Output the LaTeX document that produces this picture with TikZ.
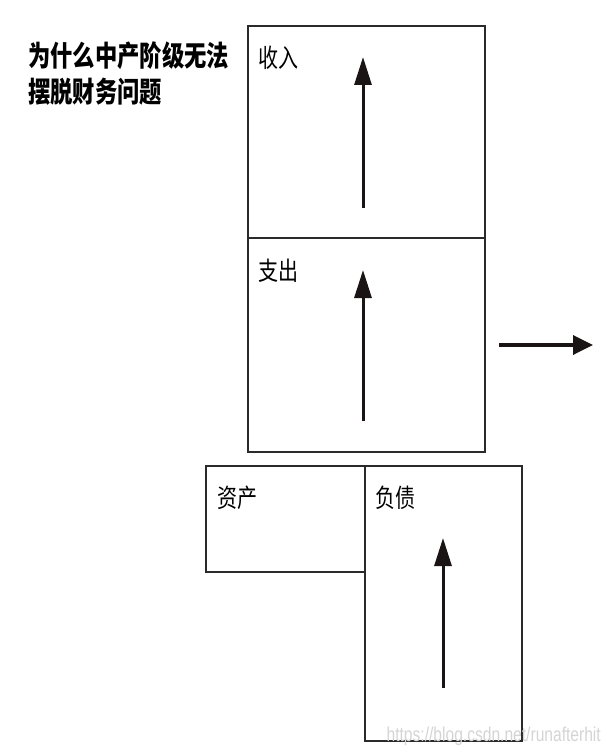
\documentclass[tikz,border=0pt]{standalone}
\usepackage{fontspec}
\setmainfont{Liberation Sans}
\newfontfamily\cjk{Noto Sans CJK SC}
\usepackage{xcolor}
\usetikzlibrary{arrows.meta, positioning, calc}
\definecolor{boxStroke}{HTML}{2A2A2A}
\definecolor{arrowInk}{HTML}{1A1414}
\definecolor{markGray}{HTML}{D4D4D4}
\newcommand{\tallText}[1]{\scalebox{1}[1.28]{#1}}
\tikzset{
  panel/.style={
    rectangle, anchor=north west,
    draw=boxStroke, line width=1.7pt,
    inner sep=0pt
  },
  lbl/.style={anchor=base west, inner sep=0pt, font=\cjk\fontsize{20}{20}\selectfont},
  headline/.style={anchor=base west, inner sep=0pt, font=\cjk\bfseries\fontsize{22.3}{22.3}\selectfont},
  up/.style={-{Triangle[length=28pt, width=17pt]}, line width=3pt, draw=arrowInk},
  side/.style={-{Triangle[length=20pt, width=19pt]}, line width=3.5pt, draw=arrowInk},
}

\begin{document}
\begin{tikzpicture}[x=1pt, y=-1pt]
    \useasboundingbox (0,0) rectangle (611,754);

    % title
    \node[headline] (title1) at (28,67) {\tallText{为什么中产阶级无法}};
    \node[headline] (title2) at (28,103) {\tallText{摆脱财务问题}};

    % panels
    \node[panel, minimum width=237pt, minimum height=212pt] (income) at (247,25) {};
    \node[panel, minimum width=237pt, minimum height=214pt] (spend) at (247,237) {};
    \node[panel, minimum width=159pt, minimum height=106pt] (assets) at (205,465) {};
    \node[panel, minimum width=157pt, minimum height=275pt] (debts) at (364,465) {};

    \node[lbl] (incomeTxt) at ($(income.north west)+(11,43)$) {\tallText{收入}};
    \node[lbl] (spendTxt) at ($(spend.north west)+(11,43)$) {\tallText{支出}};
    \node[lbl] (assetsTxt) at ($(assets.north west)+(12,42)$) {\tallText{资产}};
    \node[lbl] (debtsTxt) at ($(debts.north west)+(11,42)$) {\tallText{负债}};

    % arrows
    \coordinate (inLow) at (363,208);
    \coordinate (inHigh) at (363,57);
    \coordinate (spLow) at (363,421);
    \coordinate (spHigh) at (363,270);
    \coordinate (dbLow) at (443,688);
    \coordinate (dbHigh) at (443,538);
    \coordinate (outStart) at (499,345);
    \coordinate (outEnd) at (593,345);

    \draw[up] (inLow) -- (inHigh);
    \draw[up] (spLow) -- (spHigh);
    \draw[up] (dbLow) -- (dbHigh);
    \draw[side] (outStart) -- (outEnd);

    \node[anchor=base east, inner sep=0pt, text=markGray, font=\fontsize{15.6}{15.6}\selectfont]
      (mark) at (601,741) {\tallText{https://blog.csdn.net/runafterhit}};
  \end{tikzpicture}
\end{document}
